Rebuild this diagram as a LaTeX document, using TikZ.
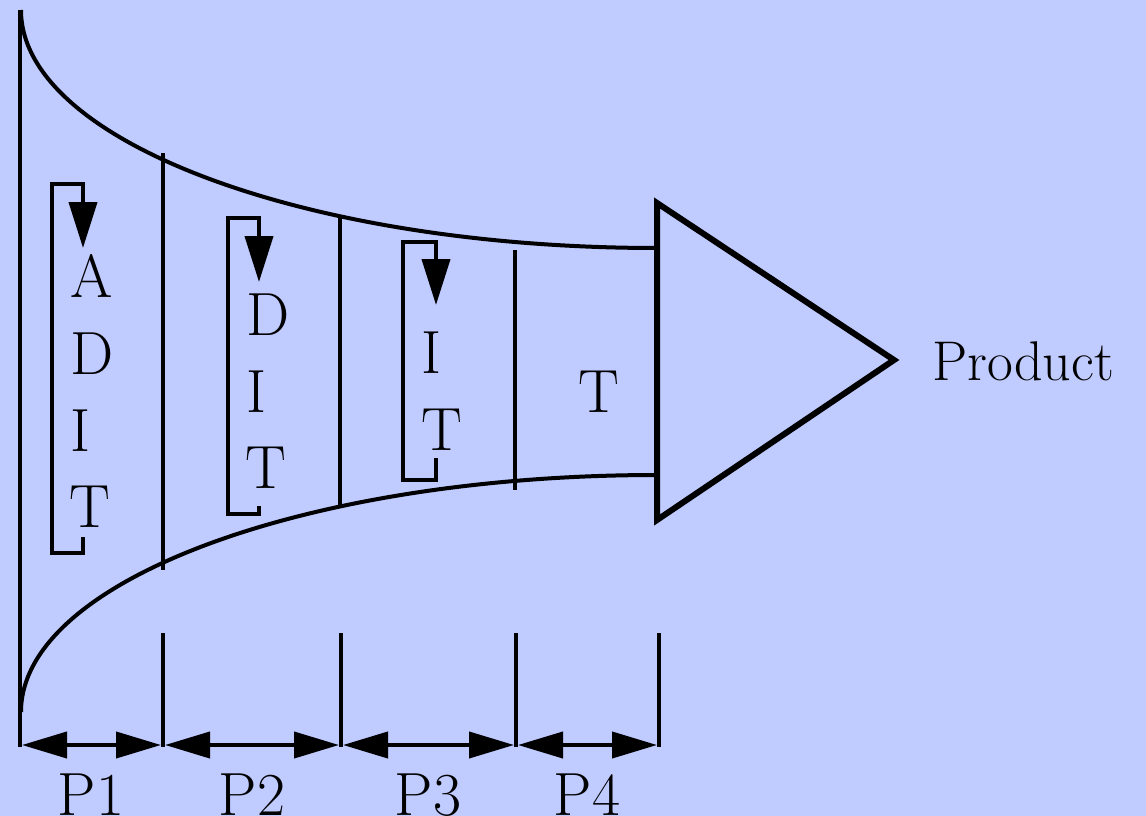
\documentclass[tikz,border=0pt]{standalone}
\usetikzlibrary{arrows.meta}
\definecolor{bg}{RGB}{192,203,255}
\begin{document}
\begin{tikzpicture}[x=1pt,y=-1pt, line width=4pt,
  lbl/.style={inner sep=0pt, font=\fontsize{61}{70}\selectfont},
  prodlbl/.style={inner sep=0pt, font=\fontsize{56}{64}\selectfont},
  loopline/.style={line width=4pt, -{Triangle[length=46pt,width=28pt]}},
  dimline/.style={line width=4pt, {Triangle[length=45pt,width=26pt]}-{Triangle[length=45pt,width=26pt]}},
  tri/.style={line width=6pt, line join=miter}]
\fill[bg] (0,0) rectangle (1146,816);
\useasboundingbox (0,0) rectangle (1146,816);
% main outline
\coordinate (L0) at (20,10);
\coordinate (L1) at (20,747);
\draw (L0) -- (L1);
\coordinate (T0) at (21,10);
\coordinate (T1) at (657,248);
\coordinate (B0) at (21,712);
\coordinate (B1) at (657,475);
\draw (T0) .. controls (21,141) and (306,248) .. (T1);
\draw (B0) .. controls (21,581) and (306,475) .. (B1);
% dividers
\coordinate (d1a) at (163,153); \coordinate (d1b) at (163,570);
\coordinate (d2a) at (340,217); \coordinate (d2b) at (340,505);
\coordinate (d3a) at (515,250); \coordinate (d3b) at (515,490);
\draw (d1a) -- (d1b);
\draw (d2a) -- (d2b);
\draw (d3a) -- (d3b);
% triangle
\coordinate (tr1) at (657,203);
\coordinate (tr2) at (894,360);
\coordinate (tr3) at (657,520);
\draw[tri] (tr1) -- (tr2) -- (tr3) -- cycle;
% loops
\draw[loopline] (83,537) -- (83,553) -- (52,553) -- (52,184) -- (83,184) -- (83,248);
\draw[loopline] (259,506) -- (259,514) -- (228,514) -- (228,218) -- (259,218) -- (259,282);
\draw[loopline] (436,458) -- (436,480) -- (403,480) -- (403,242) -- (436,242) -- (436,305);
% letters
\node[lbl, anchor=base west] (c1a) at (68,297) {A};
\node[lbl, anchor=base west] (c1d) at (68,374) {D};
\node[lbl, anchor=base west] (c1i) at (68,451) {I};
\node[lbl, anchor=base west] (c1t) at (67,527) {T};
\node[lbl, anchor=base west] (c2d) at (244,335) {D};
\node[lbl, anchor=base west] (c2i) at (244,412) {I};
\node[lbl, anchor=base west] (c2t) at (243,488) {T};
\node[lbl, anchor=base west] (c3i) at (419,373) {I};
\node[lbl, anchor=base west] (c3t) at (419,450) {T};
\node[lbl, anchor=base] (c4t) at (599,412) {T};
\node[prodlbl, anchor=base west] (prod) at (930,380) {Product};
% bottom scale
\coordinate (k1t) at (163,633);
\coordinate (k2t) at (341,633);
\coordinate (k3t) at (516,633);
\coordinate (k4t) at (659,633);
\coordinate (k1b) at (163,747);
\coordinate (k2b) at (341,747);
\coordinate (k3b) at (516,747);
\coordinate (k4b) at (659,747);
\draw (k1t) -- (k1b);
\draw (k2t) -- (k2b);
\draw (k3t) -- (k3b);
\draw (k4t) -- (k4b);
\coordinate (a0r) at (22,745);  \coordinate (a1l) at (161,745);
\coordinate (a1r) at (165,745); \coordinate (a2l) at (339,745);
\coordinate (a2r) at (343,745); \coordinate (a3l) at (514,745);
\coordinate (a3r) at (518,745); \coordinate (a4l) at (657,745);
\draw[dimline] (a0r) -- (a1l);
\draw[dimline] (a1r) -- (a2l);
\draw[dimline] (a2r) -- (a3l);
\draw[dimline] (a3r) -- (a4l);
\node[lbl, anchor=base] (p1) at (91,815) {P1};
\node[lbl, anchor=base] (p2) at (252,815) {P2};
\node[lbl, anchor=base] (p3) at (428,815) {P3};
\node[lbl, anchor=base] (p4) at (587,815) {P4};
\end{tikzpicture}
\end{document}
